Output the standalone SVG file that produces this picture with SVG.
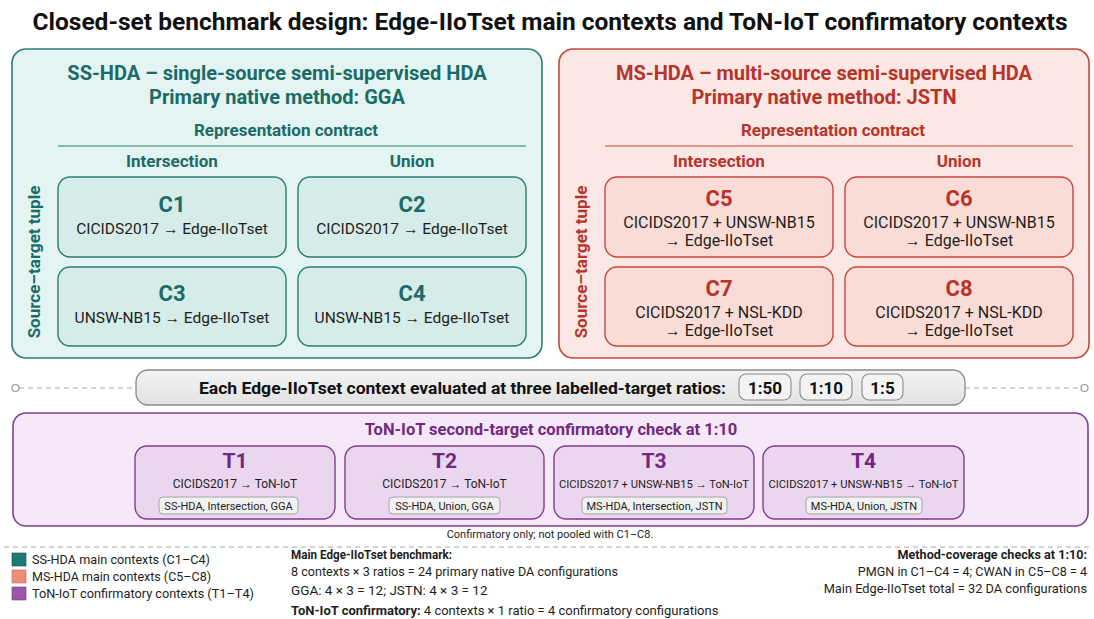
<svg xmlns="http://www.w3.org/2000/svg" width="1094" height="619" viewBox="0 0 1094 619">
<defs>
<style>
text{font-family:Roboto,"Liberation Sans",Arial,sans-serif;}
.b{font-weight:bold;}
.mid{text-anchor:middle;}
.end{text-anchor:end;}
.ar{font-family:"Liberation Sans",Arial,sans-serif;}
.teal{fill:#1b6b66;}
.red{fill:#b5352c;}
.pur{fill:#71287f;}
.tpanel{fill:#e3f4f2;stroke:#2b7c76;stroke-width:1.6;}
.tbox{fill:#d5ece9;stroke:#2b7c76;stroke-width:1.4;}
.rpanel{fill:#fbe7e3;stroke:#c8473c;stroke-width:1.6;}
.rbox{fill:#f9dcd5;stroke:#c8473c;stroke-width:1.4;}
.ppanel{fill:#f6e8f8;stroke:#7d3f8f;stroke-width:1.6;}
.pbox{fill:#ebd6ef;stroke:#7d3f8f;stroke-width:1.4;}
.pill{fill:#f1f1f1;stroke:#a6a6a6;stroke-width:1;}
.rpill{fill:#f3f3f3;stroke:#8a8a8a;stroke-width:1.1;}
.dash{stroke:#a9a9a9;stroke-width:1.2;stroke-dasharray:5 4;fill:none;}
.lbl{font-size:22px;font-weight:bold;}
.sub{font-size:15.5px;fill:#1e1e1e;}
.sub2{font-size:16px;fill:#1e1e1e;}
.hd{font-size:20px;font-weight:bold;}
.sh{font-size:17px;font-weight:bold;}
.tsub{font-size:12px;fill:#1e1e1e;}
.tpill{font-size:11px;fill:#1e1e1e;}
.foot{font-size:13.5px;fill:#1e1e1e;}
</style>
<linearGradient id="gbar" x1="0" y1="0" x2="0" y2="1"><stop offset="0" stop-color="#f4f4f4"/><stop offset="1" stop-color="#e2e2e2"/></linearGradient>
</defs>
<rect width="1094" height="619" fill="#ffffff"/>
<text x="550" y="30" class="b mid" style="font-size:24px" fill="#111" textLength="1035" lengthAdjust="spacingAndGlyphs">Closed-set benchmark design: Edge-IIoTset main contexts and ToN-IoT confirmatory contexts</text>

<g id="ss-hda-panel">
<rect x="12" y="49" width="530" height="309" rx="14" class="tpanel"/>
<text x="277" y="80" class="hd mid teal">SS-HDA – single-source semi-supervised HDA</text>
<text x="277" y="104" class="hd mid teal">Primary native method: GGA</text>
<text x="286" y="136" class="sh mid teal">Representation contract</text>
<line x1="58" y1="146" x2="526" y2="146" stroke="#2b7c76" stroke-width="1.2"/>
<text x="172" y="167" class="sh mid teal">Intersection</text>
<text x="412" y="167" class="sh mid teal">Union</text>
<text transform="translate(40,262) rotate(-90)" class="sh mid teal">Source–target tuple</text>
</g>
<g id="C1"><rect x="58" y="177" width="228" height="80" rx="12" class="tbox"/><text x="172" y="212" class="lbl mid teal">C1</text><text x="172" y="234" class="sub mid">CICIDS2017 <tspan class="ar">→</tspan> Edge-IIoTset</text></g>
<g id="C2"><rect x="298" y="177" width="228" height="80" rx="12" class="tbox"/><text x="412" y="212" class="lbl mid teal">C2</text><text x="412" y="234" class="sub mid">CICIDS2017 <tspan class="ar">→</tspan> Edge-IIoTset</text></g>
<g id="C3"><rect x="58" y="267" width="228" height="79" rx="12" class="tbox"/><text x="172" y="301" class="lbl mid teal">C3</text><text x="172" y="323" class="sub mid">UNSW-NB15 <tspan class="ar">→</tspan> Edge-IIoTset</text></g>
<g id="C4"><rect x="298" y="267" width="228" height="79" rx="12" class="tbox"/><text x="412" y="301" class="lbl mid teal">C4</text><text x="412" y="323" class="sub mid">UNSW-NB15 <tspan class="ar">→</tspan> Edge-IIoTset</text></g>

<g id="ms-hda-panel">
<rect x="559" y="49" width="530" height="309" rx="14" class="rpanel"/>
<text x="824" y="80" class="hd mid red">MS-HDA – multi-source semi-supervised HDA</text>
<text x="824" y="104" class="hd mid red">Primary native method: JSTN</text>
<text x="833" y="136" class="sh mid red">Representation contract</text>
<line x1="605" y1="146" x2="1073" y2="146" stroke="#c8473c" stroke-width="1.2"/>
<text x="719" y="167" class="sh mid red">Intersection</text>
<text x="959" y="167" class="sh mid red">Union</text>
<text transform="translate(587,262) rotate(-90)" class="sh mid red">Source–target tuple</text>
</g>
<g id="C5"><rect x="605" y="177" width="228" height="80" rx="12" class="rbox"/><text x="719" y="206" class="lbl mid red">C5</text><text x="719" y="228" class="sub2 mid">CICIDS2017 + UNSW-NB15</text><text x="719" y="246" class="sub2 mid"><tspan class="ar">→</tspan> Edge-IIoTset</text></g>
<g id="C6"><rect x="845" y="177" width="228" height="80" rx="12" class="rbox"/><text x="959" y="206" class="lbl mid red">C6</text><text x="959" y="228" class="sub2 mid">CICIDS2017 + UNSW-NB15</text><text x="959" y="246" class="sub2 mid"><tspan class="ar">→</tspan> Edge-IIoTset</text></g>
<g id="C7"><rect x="605" y="267" width="228" height="79" rx="12" class="rbox"/><text x="719" y="296" class="lbl mid red">C7</text><text x="719" y="318" class="sub2 mid">CICIDS2017 + NSL-KDD</text><text x="719" y="336" class="sub2 mid"><tspan class="ar">→</tspan> Edge-IIoTset</text></g>
<g id="C8"><rect x="845" y="267" width="228" height="79" rx="12" class="rbox"/><text x="959" y="296" class="lbl mid red">C8</text><text x="959" y="318" class="sub2 mid">CICIDS2017 + NSL-KDD</text><text x="959" y="336" class="sub2 mid"><tspan class="ar">→</tspan> Edge-IIoTset</text></g>

<g id="connectors">
<line x1="19" y1="388" x2="136" y2="388" class="dash"/>
<line x1="965" y1="388" x2="1081" y2="388" class="dash"/>
<circle cx="15.5" cy="388" r="3.5" fill="#fff" stroke="#999" stroke-width="1.2"/>
<circle cx="1084.5" cy="388" r="3.5" fill="#fff" stroke="#999" stroke-width="1.2"/>
<line x1="4" y1="547" x2="1090" y2="547" class="dash" stroke="#bdbdbd"/>
</g>

<g id="ratio-bar">
<rect x="136" y="370" width="829" height="35" rx="12" fill="url(#gbar)" stroke="#8a8a8a" stroke-width="1.3"/>
<text x="726" y="394" class="b end" style="font-size:17px" fill="#111" textLength="527" lengthAdjust="spacingAndGlyphs">Each Edge-IIoTset context evaluated at three labelled-target ratios:</text>
<rect x="739" y="374" width="52" height="26" rx="7" class="rpill"/><text x="765" y="393.5" class="b mid" style="font-size:17px" fill="#111">1:50</text>
<rect x="800" y="374" width="52" height="26" rx="7" class="rpill"/><text x="826" y="393.5" class="b mid" style="font-size:17px" fill="#111">1:10</text>
<rect x="862" y="374" width="41" height="26" rx="7" class="rpill"/><text x="882.5" y="393.5" class="b mid" style="font-size:17px" fill="#111">1:5</text>
</g>

<g id="ton-iot-panel">
<rect x="13" y="413" width="1075" height="113" rx="13" class="ppanel"/>
<text x="551" y="435" class="sh mid pur" style="font-size:16.5px">ToN-IoT second-target confirmatory check at 1:10</text>
</g>
<g id="T1"><rect x="135" y="446" width="200" height="73" rx="12" class="pbox"/><text x="235" y="468" class="lbl mid pur" style="font-size:21px">T1</text><text x="235" y="488" class="tsub mid">CICIDS2017 <tspan class="ar">→</tspan> ToN-IoT</text><rect x="159" y="497" width="139" height="17" rx="4" class="pill"/><text x="228.5" y="509.5" class="tpill mid">SS-HDA, Intersection, GGA</text></g>
<g id="T2"><rect x="345" y="446" width="199" height="73" rx="12" class="pbox"/><text x="444.5" y="468" class="lbl mid pur" style="font-size:21px">T2</text><text x="444.5" y="488" class="tsub mid">CICIDS2017 <tspan class="ar">→</tspan> ToN-IoT</text><rect x="389" y="497" width="111" height="17" rx="4" class="pill"/><text x="444.5" y="509.5" class="tpill mid">SS-HDA, Union, GGA</text></g>
<g id="T3"><rect x="554" y="446" width="200" height="73" rx="12" class="pbox"/><text x="654" y="468" class="lbl mid pur" style="font-size:21px">T3</text><text x="654" y="488" class="tsub mid" style="font-size:11.2px">CICIDS2017 + UNSW-NB15 → ToN-IoT</text><rect x="582" y="497" width="145" height="17" rx="4" class="pill"/><text x="654.5" y="509.5" class="tpill mid">MS-HDA, Intersection, JSTN</text></g>
<g id="T4"><rect x="763" y="446" width="201" height="73" rx="12" class="pbox"/><text x="863.5" y="468" class="lbl mid pur" style="font-size:21px">T4</text><text x="863.5" y="488" class="tsub mid" style="font-size:11.2px">CICIDS2017 + UNSW-NB15 → ToN-IoT</text><rect x="806" y="497" width="116" height="17" rx="4" class="pill"/><text x="864" y="509.5" class="tpill mid">MS-HDA, Union, JSTN</text></g>
<text x="550" y="538" class="mid" style="font-size:11px" fill="#1e1e1e">Confirmatory only; not pooled with C1–C8.</text>

<g id="legend">
<rect x="12" y="553" width="14" height="13" fill="#1f7a73" stroke="#15554f" stroke-width="0.6"/>
<text x="32" y="564" class="foot" textLength="178" lengthAdjust="spacingAndGlyphs">SS-HDA main contexts (C1–C4)</text>
<rect x="12" y="570" width="14" height="13" fill="#ec8f78" stroke="#c8675a" stroke-width="0.6"/>
<text x="32" y="581" class="foot" textLength="179" lengthAdjust="spacingAndGlyphs">MS-HDA main contexts (C5–C8)</text>
<rect x="12" y="587" width="14" height="13" fill="#9b55ab" stroke="#74397f" stroke-width="0.6"/>
<text x="32" y="598" class="foot" textLength="222" lengthAdjust="spacingAndGlyphs">ToN-IoT confirmatory contexts (T1–T4)</text>
</g>

<g id="summary">
<text x="291" y="559" class="foot b" textLength="161" lengthAdjust="spacingAndGlyphs">Main Edge-IIoTset benchmark:</text>
<text x="291" y="576" class="foot" textLength="327" lengthAdjust="spacingAndGlyphs">8 contexts × 3 ratios = 24 primary native DA configurations</text>
<text x="291" y="595" class="foot">GGA: 4 × 3 = 12; JSTN: 4 × 3 = 12</text>
<text x="291" y="615" class="foot" style="font-size:13px"><tspan class="b">ToN-IoT confirmatory:</tspan> 4 contexts × 1 ratio = 4 confirmatory configurations</text>
</g>

<g id="method-coverage">
<text x="1087" y="559" class="foot b end" style="font-size:12.6px">Method-coverage checks at 1:10:</text>
<text x="1087" y="576" class="foot end" style="font-size:12.6px">PMGN in C1–C4 = 4; CWAN in C5–C8 = 4</text>
<text x="1087" y="593" class="foot end" style="font-size:12.8px">Main Edge-IIoTset total = 32 DA configurations</text>
</g>
</svg>
